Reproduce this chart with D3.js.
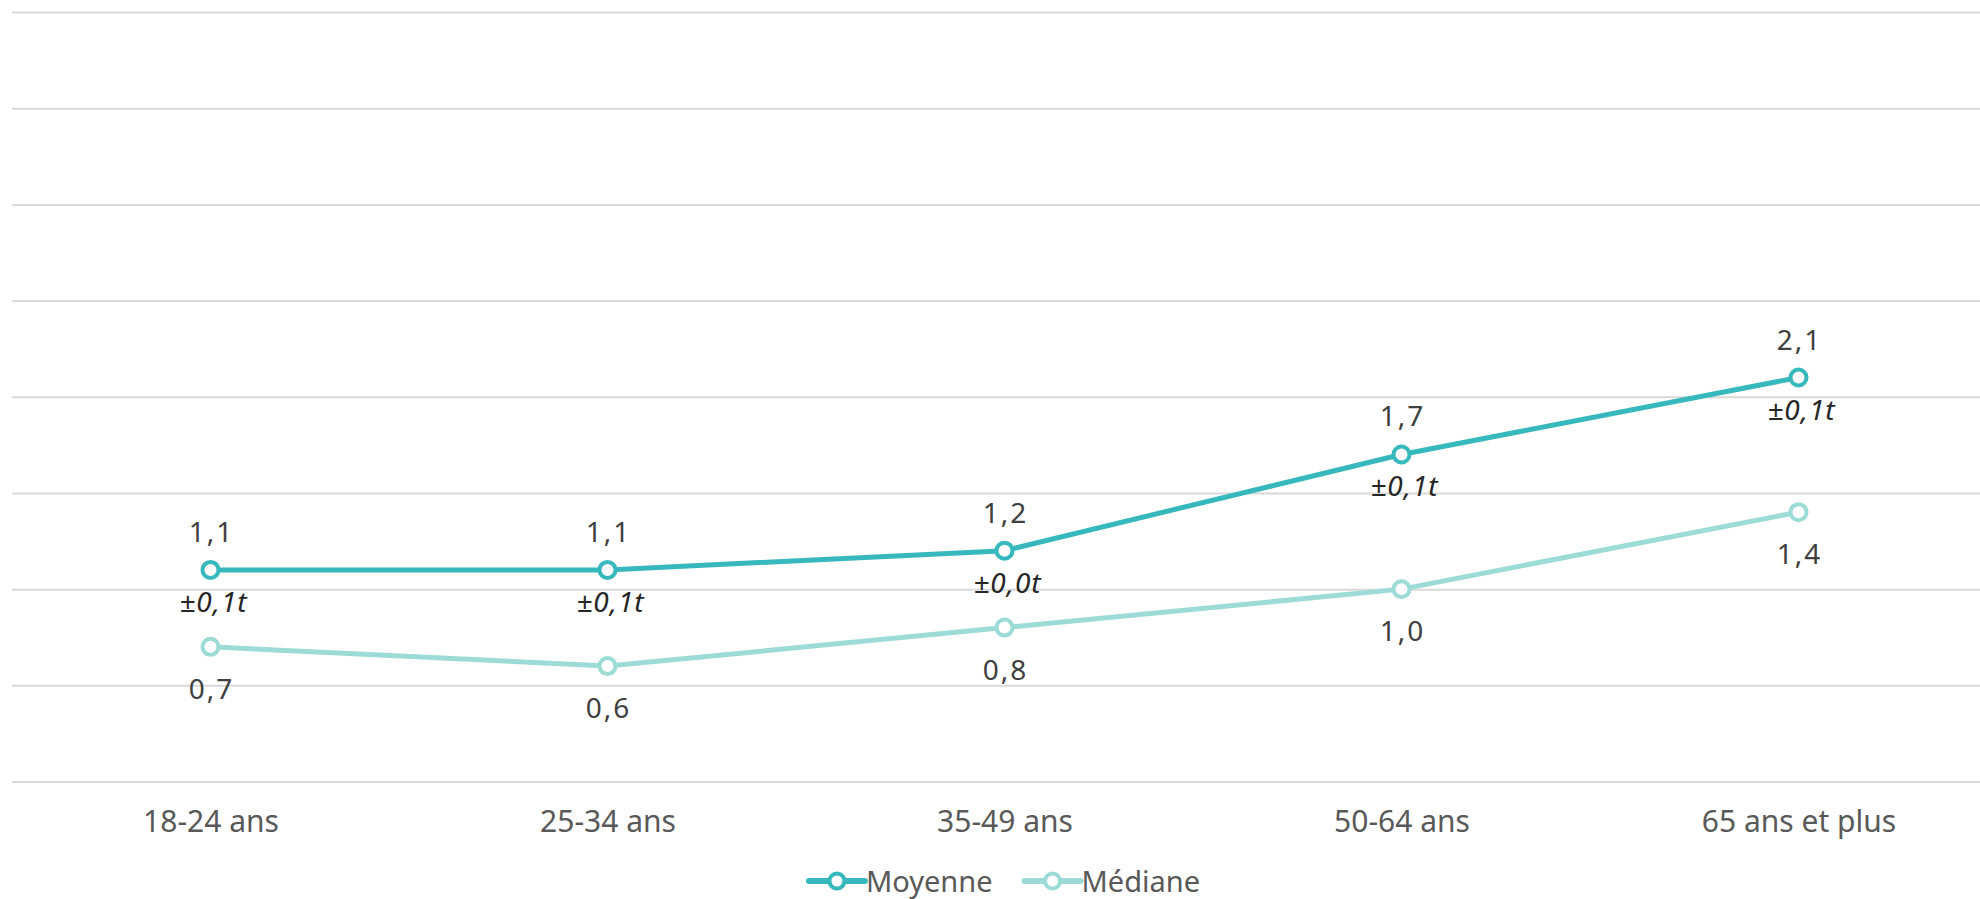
<!DOCTYPE html>
<html>
<head>
<meta charset="utf-8">
<script src="https://cdn.jsdelivr.net/npm/d3@7/dist/d3.min.js"></script>
<style>
  html, body { margin: 0; padding: 0; background: #ffffff; }
  svg { display: block; }
  text { font-family: "Noto Sans", "Open Sans", sans-serif; }
</style>
</head>
<body>
<svg id="chart" width="1980" height="899"></svg>
<script>
// ---- data ----
const categories = ["18-24 ans", "25-34 ans", "35-49 ans", "50-64 ans", "65 ans et plus"];
const moyenne = [1.1, 1.1, 1.2, 1.7, 2.1];
const mediane = [0.7, 0.6, 0.8, 1.0, 1.4];
const marges = ["±0,1t", "±0,1t", "±0,0t", "±0,1t", "±0,1t"];
const yTicks = [0, 0.5, 1, 1.5, 2, 2.5, 3, 3.5, 4];
const seriesNames = ["Moyenne", "Médiane"];
const seriesColors = ["#36b8bd", "#9ddcd6"];

(function () {
// ---- setup ----
const svg = d3.select("#chart");
const mLeft = 12, mRight = 1997, mTop = 12, mBottom = 781.5;

const x = d3.scalePoint().domain(categories).range([mLeft, mRight]).padding(0.5);
const y = d3.scaleLinear().domain([0, 4]).range([mBottom, mTop]);

const fr = d3.formatLocale({decimal: ",", thousands: " ", grouping: [3], currency: ["", " €"]});
const fmt = fr.format(".1f");

// gridlines
const grid = svg.append("g")
  .attr("transform", `translate(${mLeft},0)`)
  .call(d3.axisLeft(y).tickValues(yTicks).tickSize(-(mRight - mLeft)).tickFormat(""));
grid.select(".domain").remove();
grid.selectAll(".tick line").attr("stroke", "#d9d9d9").attr("stroke-width", 2);

// x axis labels
const xAxis = svg.append("g")
  .attr("transform", `translate(0,${mBottom})`)
  .call(d3.axisBottom(x).tickSize(0).tickPadding(29));
xAxis.select(".domain").remove();
xAxis.selectAll(".tick text")
  .attr("fill", "#595959")
  .style("font-size", "30px")
  .style("font-family", "'Noto Sans', sans-serif");

// lines
const lineGen = d3.line().x((d, i) => x(categories[i])).y(d => y(d));
const series = [moyenne, mediane];

[1, 0].forEach(si => {
  svg.append("path")
    .datum(series[si])
    .attr("d", lineGen)
    .attr("fill", "none")
    .attr("stroke", seriesColors[si])
    .attr("stroke-width", 5)
    .attr("stroke-linejoin", "round");
});

series.forEach((vals, si) => {
  svg.append("g").selectAll("circle")
    .data(vals)
    .join("circle")
    .attr("cx", (d, i) => x(categories[i]))
    .attr("cy", d => y(d))
    .attr("r", 8)
    .attr("fill", "#ffffff")
    .attr("stroke", seriesColors[si])
    .attr("stroke-width", 4);
});

// labels: moyenne above, marge below
svg.append("g").selectAll("text")
  .data(moyenne)
  .join("text")
  .attr("x", (d, i) => x(categories[i]) + 1)
  .attr("y", d => y(d) - 28)
  .attr("text-anchor", "middle")
  .attr("fill", "#404040")
  .style("font-size", "28px")
  .style("letter-spacing", "2px")
  .text(d => fmt(d));

svg.append("g").selectAll("text")
  .data(marges)
  .join("text")
  .attr("x", (d, i) => x(categories[i]) + 3)
  .attr("y", (d, i) => y(moyenne[i]) + 42)
  .attr("text-anchor", "middle")
  .attr("fill", "#262626")
  .style("font-size", "28px")
  .style("letter-spacing", "1px")
  .style("font-style", "italic")
  .text(d => d);

// mediane labels below
svg.append("g").selectAll("text")
  .data(mediane)
  .join("text")
  .attr("x", (d, i) => x(categories[i]) + 1)
  .attr("y", d => y(d) + 52)
  .attr("text-anchor", "middle")
  .attr("fill", "#404040")
  .style("font-size", "28px")
  .style("letter-spacing", "2px")
  .text(d => fmt(d));

// legend
const legend = svg.append("g");
const items = legend.selectAll("g.item")
  .data(seriesNames)
  .join("g")
  .attr("class", "item");
items.append("line")
  .attr("x1", 0).attr("x2", 56)
  .attr("y1", 0).attr("y2", 0)
  .attr("stroke", (d, i) => seriesColors[i])
  .attr("stroke-width", 6)
  .attr("stroke-linecap", "round");
items.append("circle")
  .attr("cx", 28).attr("cy", 0).attr("r", 7.5)
  .attr("fill", "#ffffff")
  .attr("stroke", (d, i) => seriesColors[i])
  .attr("stroke-width", 4);
items.append("text")
  .attr("x", 57)
  .attr("y", 11)
  .attr("fill", "#595959")
  .style("font-size", "29px")
  .text(d => d);

// layout legend centered
const offs = [];
let cur = 0;
items.each(function () {
  const w = this.getBBox().width;
  offs.push(cur);
  cur += w + 32;
});
const total = cur - 32;
const lx0 = (mLeft + mRight) / 2 - total / 2;
items.attr("transform", (d, i) => `translate(${lx0 + offs[i]},881)`);
})();
</script>
</body>
</html>
